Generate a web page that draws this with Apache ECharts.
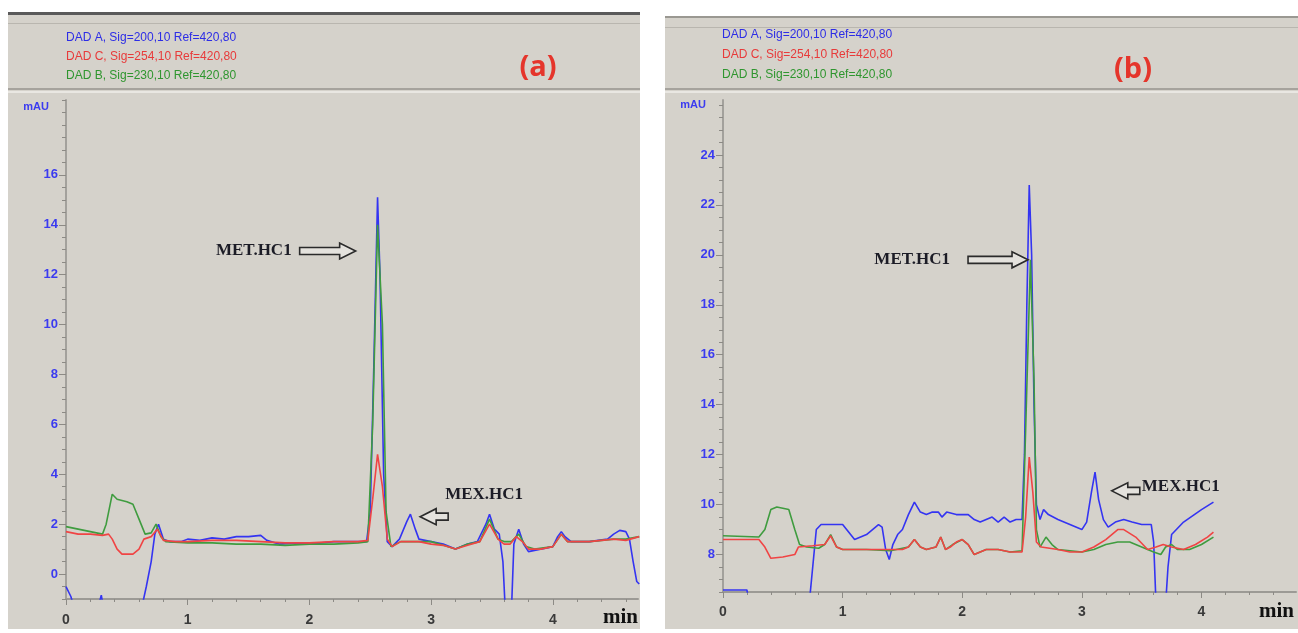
<!DOCTYPE html>
<html>
<head>
<meta charset="utf-8">
<script src="https://cdn.jsdelivr.net/npm/echarts@6.0.0/dist/echarts.min.js"></script>
<style>
html, body { margin: 0; padding: 0; background: #fff; }
#main { width: 1298px; height: 633px; }
</style>
</head>
<body>
<div id="main"></div>
<script>
// legend labels
const sigNames = ['DAD A, Sig=200,10 Ref=420,80', 'DAD C, Sig=254,10 Ref=420,80', 'DAD B, Sig=230,10 Ref=420,80']
const sigColors = ['#3434f2', '#f04444', '#3f9c3f']
const labelColors = ['#2d2de6', '#e83a3a', '#2f962f']

// axis ticks
const aXTicks = [0, 1, 2, 3, 4]
const aYTicks = [0, 2, 4, 6, 8, 10, 12, 14, 16]
const bXTicks = [0, 1, 2, 3, 4]
const bYTicks = [8, 10, 12, 14, 16, 18, 20, 22, 24]

// (a) traces [min, mAU]
const aBlue = [[0, -0.5], [0.04, -0.9], [0.07, -1.4], [0.26, -1.4], [0.29, -0.85], [0.31, -1.4], [0.62, -1.4], [0.66, -0.5], [0.7, 0.5], [0.73, 1.6], [0.76, 2.0], [0.8, 1.4], [0.85, 1.3], [0.95, 1.3], [1.0, 1.4], [1.1, 1.35], [1.2, 1.45], [1.3, 1.4], [1.4, 1.5], [1.5, 1.5], [1.6, 1.55], [1.65, 1.35], [1.75, 1.2], [1.9, 1.25], [2.0, 1.2], [2.1, 1.25], [2.2, 1.3], [2.3, 1.3], [2.4, 1.3], [2.47, 1.3], [2.5, 2.5], [2.53, 8.5], [2.56, 15.1], [2.58, 12], [2.61, 4], [2.64, 1.3], [2.68, 1.1], [2.74, 1.4], [2.8, 2.1], [2.83, 2.4], [2.87, 1.8], [2.9, 1.4], [3.0, 1.3], [3.1, 1.2], [3.2, 1.0], [3.3, 1.2], [3.38, 1.3], [3.45, 2.0], [3.48, 2.4], [3.52, 1.8], [3.56, 1.6], [3.59, 0.5], [3.61, -1.5], [3.66, -1.5], [3.68, 1.2], [3.72, 1.8], [3.76, 1.2], [3.8, 0.9], [3.9, 1.0], [4.0, 1.1], [4.04, 1.5], [4.07, 1.7], [4.1, 1.5], [4.15, 1.3], [4.3, 1.3], [4.45, 1.4], [4.5, 1.6], [4.55, 1.75], [4.6, 1.7], [4.63, 1.4], [4.66, 0.5], [4.69, -0.3], [4.71, -0.4]]
const aRed = [[0, 1.7], [0.05, 1.65], [0.1, 1.6], [0.2, 1.6], [0.3, 1.55], [0.35, 1.6], [0.38, 1.4], [0.42, 1.0], [0.46, 0.8], [0.55, 0.8], [0.6, 1.0], [0.64, 1.4], [0.7, 1.5], [0.75, 1.8], [0.8, 1.35], [0.9, 1.3], [1.0, 1.3], [1.2, 1.35], [1.4, 1.35], [1.6, 1.3], [1.8, 1.25], [2.0, 1.25], [2.2, 1.3], [2.4, 1.3], [2.48, 1.35], [2.52, 3.0], [2.56, 4.8], [2.6, 3.5], [2.64, 1.4], [2.68, 1.1], [2.75, 1.3], [2.9, 1.3], [3.0, 1.2], [3.1, 1.15], [3.2, 1.0], [3.3, 1.15], [3.4, 1.3], [3.48, 2.0], [3.55, 1.4], [3.6, 1.2], [3.65, 1.2], [3.7, 1.5], [3.75, 1.3], [3.8, 1.0], [3.9, 1.0], [4.0, 1.1], [4.07, 1.6], [4.12, 1.3], [4.3, 1.3], [4.5, 1.4], [4.6, 1.35], [4.71, 1.5]]
const aGreen = [[0, 1.9], [0.1, 1.8], [0.2, 1.7], [0.3, 1.6], [0.33, 2.0], [0.38, 3.2], [0.42, 3.0], [0.5, 2.9], [0.55, 2.8], [0.6, 2.2], [0.65, 1.6], [0.7, 1.65], [0.74, 2.0], [0.78, 1.5], [0.82, 1.3], [1.0, 1.25], [1.2, 1.25], [1.4, 1.2], [1.6, 1.2], [1.8, 1.15], [2.0, 1.2], [2.2, 1.2], [2.4, 1.25], [2.48, 1.3], [2.52, 6], [2.56, 14], [2.6, 10], [2.63, 2.5], [2.67, 1.1], [2.75, 1.3], [2.9, 1.3], [3.0, 1.3], [3.1, 1.15], [3.2, 1.0], [3.3, 1.2], [3.4, 1.3], [3.48, 2.2], [3.55, 1.4], [3.6, 1.3], [3.66, 1.3], [3.72, 1.6], [3.78, 1.1], [3.85, 1.0], [4.0, 1.1], [4.07, 1.6], [4.12, 1.3], [4.3, 1.3], [4.5, 1.4], [4.6, 1.4], [4.71, 1.5]]

// (b) traces [min, mAU]
const bBlue = [[0, 6.58], [0.2, 6.58], [0.22, 6.0], [0.72, 6.0], [0.75, 7.5], [0.78, 9.0], [0.82, 9.2], [0.9, 9.2], [1.0, 9.2], [1.05, 8.9], [1.1, 8.6], [1.15, 8.7], [1.2, 8.8], [1.25, 9.0], [1.3, 9.2], [1.33, 9.1], [1.36, 8.2], [1.39, 7.8], [1.42, 8.4], [1.46, 8.8], [1.5, 9.0], [1.55, 9.6], [1.6, 10.1], [1.65, 9.7], [1.7, 9.6], [1.75, 9.7], [1.8, 9.7], [1.83, 9.5], [1.87, 9.7], [1.95, 9.6], [2.05, 9.6], [2.1, 9.4], [2.15, 9.3], [2.2, 9.4], [2.25, 9.5], [2.3, 9.3], [2.35, 9.5], [2.4, 9.3], [2.45, 9.4], [2.5, 9.4], [2.52, 12], [2.54, 18], [2.56, 22.8], [2.58, 20], [2.6, 14], [2.62, 10], [2.65, 9.4], [2.68, 9.8], [2.72, 9.6], [2.8, 9.4], [2.9, 9.2], [3.0, 9.0], [3.04, 9.3], [3.08, 10.5], [3.11, 11.3], [3.14, 10.2], [3.18, 9.4], [3.22, 9.1], [3.28, 9.3], [3.35, 9.4], [3.42, 9.3], [3.5, 9.2], [3.58, 9.2], [3.6, 8.5], [3.62, 6.0], [3.7, 6.0], [3.72, 7.5], [3.75, 8.8], [3.85, 9.3], [4.0, 9.8], [4.1, 10.1]]
const bRed = [[0, 8.6], [0.3, 8.6], [0.35, 8.3], [0.4, 7.85], [0.5, 7.9], [0.6, 8.0], [0.63, 8.3], [0.75, 8.35], [0.85, 8.4], [0.9, 8.75], [0.95, 8.3], [1.0, 8.2], [1.2, 8.2], [1.4, 8.2], [1.5, 8.2], [1.55, 8.3], [1.6, 8.6], [1.65, 8.3], [1.7, 8.2], [1.78, 8.3], [1.82, 8.7], [1.86, 8.2], [1.9, 8.3], [1.95, 8.5], [2.0, 8.6], [2.05, 8.4], [2.1, 8.0], [2.2, 8.2], [2.3, 8.2], [2.4, 8.1], [2.5, 8.1], [2.53, 9.5], [2.56, 11.9], [2.59, 10.5], [2.62, 8.5], [2.66, 8.3], [2.8, 8.2], [2.9, 8.1], [3.0, 8.1], [3.1, 8.3], [3.2, 8.6], [3.3, 9.0], [3.35, 9.0], [3.45, 8.7], [3.55, 8.2], [3.62, 8.3], [3.68, 8.4], [3.75, 8.3], [3.85, 8.2], [3.95, 8.4], [4.05, 8.7], [4.1, 8.9]]
const bGreen = [[0, 8.75], [0.3, 8.7], [0.35, 9.0], [0.4, 9.8], [0.45, 9.9], [0.55, 9.8], [0.6, 9.0], [0.64, 8.4], [0.7, 8.3], [0.8, 8.25], [0.85, 8.4], [0.9, 8.8], [0.95, 8.3], [1.0, 8.2], [1.2, 8.2], [1.4, 8.15], [1.55, 8.3], [1.6, 8.6], [1.65, 8.3], [1.7, 8.2], [1.78, 8.3], [1.82, 8.7], [1.86, 8.2], [1.92, 8.4], [2.0, 8.6], [2.05, 8.4], [2.1, 8.0], [2.2, 8.2], [2.3, 8.2], [2.4, 8.1], [2.5, 8.15], [2.53, 13], [2.57, 19.8], [2.6, 15], [2.62, 9], [2.65, 8.3], [2.7, 8.7], [2.75, 8.4], [2.8, 8.2], [3.0, 8.1], [3.1, 8.2], [3.2, 8.4], [3.3, 8.5], [3.4, 8.5], [3.5, 8.3], [3.6, 8.1], [3.66, 8.0], [3.7, 8.3], [3.75, 8.4], [3.8, 8.2], [3.9, 8.2], [4.0, 8.4], [4.1, 8.7]]

const myChart = echarts.init(document.getElementById('main'), null, { renderer: 'canvas' })

function steps(from, to, step) {
  let out = []
  for (let v = from; v <= to + 1e-9; v += step) out.push(Math.round(v * 100) / 100)
  return out
}

function xAxes(gridIndex, max, ticks, margin) {
  return [
    {
      type: 'value', gridIndex: gridIndex, min: 0, max: max, position: 'bottom',
      axisLine: { show: true, onZero: false, lineStyle: { color: '#9c9a95', width: 2 } },
      axisTick: { show: true, customValues: ticks, length: 6, lineStyle: { color: '#8c8a85' } },
      axisLabel: { customValues: ticks, color: '#3a3a3a', fontSize: 14, fontWeight: 'bold', fontFamily: 'Liberation Sans', margin: margin },
      splitLine: { show: false }
    },
    {
      type: 'value', gridIndex: gridIndex, min: 0, max: max, position: 'bottom',
      axisLine: { show: false, onZero: false },
      axisTick: { show: true, customValues: steps(0, max, 0.2), length: 3, lineStyle: { color: '#8c8a85' } },
      axisLabel: { show: false },
      splitLine: { show: false }
    }
  ]
}

function yAxes(gridIndex, min, max, ticks) {
  return [
    {
      type: 'value', gridIndex: gridIndex, min: min, max: max, position: 'left',
      axisLine: { show: true, onZero: false, lineStyle: { color: '#a3a19c', width: 2 } },
      axisTick: { show: true, customValues: ticks, length: 7, lineStyle: { color: '#8c8a85' } },
      axisLabel: { customValues: ticks, color: '#3b3bf0', fontSize: 13, fontWeight: 'bold', fontFamily: 'Liberation Sans', margin: 8 },
      splitLine: { show: false }
    },
    {
      type: 'value', gridIndex: gridIndex, min: min, max: max, position: 'left',
      axisLine: { show: false, onZero: false },
      axisTick: { show: true, customValues: steps(Math.ceil(min * 2) / 2, max, 0.5), length: 4, lineStyle: { color: '#8c8a85' } },
      axisLabel: { show: false },
      splitLine: { show: false }
    }
  ]
}

function trace(name, data, color, xi, yi) {
  return {
    name: name, type: 'line', data: data, xAxisIndex: xi, yAxisIndex: yi,
    showSymbol: false, clip: true, silent: true,
    lineStyle: { color: color, width: 1.6 }, itemStyle: { color: color }
  }
}

let option = {
  animation: false,
  backgroundColor: '#ffffff',
  grid: [
    { left: 66, right: 660, top: 100, bottom: 34, outerBoundsMode: 'none' },
    { left: 723, right: 2, top: 100, bottom: 41, outerBoundsMode: 'none' }
  ],
  xAxis: [...xAxes(0, 4.7, aXTicks, 14), ...xAxes(1, 4.79, bXTicks, 13)],
  yAxis: [...yAxes(0, -1, 19, aYTicks), ...yAxes(1, 6.5, 26.2, bYTicks)],
  series: [
    trace(sigNames[0], aBlue, sigColors[0], 0, 0),
    trace(sigNames[2], aGreen, sigColors[2], 0, 0),
    trace(sigNames[1], aRed, sigColors[1], 0, 0),
    trace(sigNames[0], bBlue, sigColors[0], 2, 2),
    trace(sigNames[2], bGreen, sigColors[2], 2, 2),
    trace(sigNames[1], bRed, sigColors[1], 2, 2)
  ]
}
myChart.setOption(option)

// frame of each panel
function panel(x, y, w, h, topColor, topH) {
  return [
    { type: 'rect', z: -10, shape: { x: x, y: y, width: w, height: h }, style: { fill: '#d5d2cb' } },
    { type: 'rect', z: -9, shape: { x: x, y: y, width: w, height: topH }, style: { fill: topColor } },
    { type: 'rect', z: -9, shape: { x: x, y: y + 11, width: w, height: 1 }, style: { fill: '#b9b6af' } },
    { type: 'rect', z: -9, shape: { x: x, y: 88, width: w, height: 2 }, style: { fill: '#a6a39d' } },
    { type: 'rect', z: -9, shape: { x: x, y: 91, width: w, height: 2 }, style: { fill: '#e9e7e2' } }
  ]
}

function legendTexts(x, y0, gap) {
  return sigNames.map((n, i) => ({
    type: 'text', z: 10, x: x, y: y0 + i * gap,
    style: { text: n, fill: labelColors[i], font: '12px "Liberation Sans"', verticalAlign: 'middle' }
  }))
}

function label(text, x, y, font, color, align) {
  return { type: 'text', z: 10, x: x, y: y, style: { text: text, fill: color, font: font, align: align || 'left', verticalAlign: 'middle' } }
}

// outlined block arrow, tip at (tx, ty), dir 1 = right, -1 = left
function arrow(tx, ty, len, dir) {
  const head = 16
  const pts = [[0, -3.5], [len - head, -3.5], [len - head, -8], [len, 0], [len - head, 8], [len - head, 3.5], [0, 3.5]]
  return {
    type: 'polygon', z: 10,
    shape: { points: pts.map(p => [tx - dir * (len - p[0]), ty + p[1]]) },
    style: { fill: '#e4e2dd', stroke: '#2a2a2a', lineWidth: 1.6 }
  }
}

const annFont = 'bold 17px "Liberation Serif"'
const annColor = '#1c1c26'
const aMet = myChart.convertToPixel({ xAxisIndex: 0, yAxisIndex: 0 }, [2.38, 12.95])
const aMex = myChart.convertToPixel({ xAxisIndex: 0, yAxisIndex: 0 }, [2.91, 2.3])
const bMet = myChart.convertToPixel({ xAxisIndex: 2, yAxisIndex: 2 }, [2.55, 19.8])
const bMex = myChart.convertToPixel({ xAxisIndex: 2, yAxisIndex: 2 }, [3.25, 10.55])

myChart.setOption({
  graphic: [
    ...panel(8, 12, 632, 617, '#5a5a5a', 3),
    ...panel(665, 16, 633, 613, '#9a9892', 2),
    ...legendTexts(66, 38, 19),
    ...legendTexts(722, 35, 20),
    label('(a)', 538, 68, 'bold 29px "Open Sans"', '#e5352b', 'center'),
    label('(b)', 1133, 70, 'bold 29px "Open Sans"', '#e5352b', 'center'),
    label('mAU', 49, 107, 'bold 11px "Liberation Sans"', '#3b3bf0', 'right'),
    label('mAU', 706, 105, 'bold 11px "Liberation Sans"', '#3b3bf0', 'right'),
    label('min', 638, 618, 'bold 21px "Liberation Serif"', '#111', 'right'),
    label('min', 1294, 612, 'bold 21px "Liberation Serif"', '#111', 'right'),
    arrow(aMet[0], aMet[1], 56, 1),
    label('MET.HC1', aMet[0] - 64, aMet[1], annFont, annColor, 'right'),
    arrow(aMex[0], aMex[1], 28, -1),
    label('MEX.HC1', aMex[0] + 25, aMex[1] - 22, annFont, annColor, 'left'),
    arrow(bMet[0], bMet[1], 60, 1),
    label('MET.HC1', bMet[0] - 78, bMet[1], annFont, annColor, 'right'),
    arrow(bMex[0], bMex[1], 28, -1),
    label('MEX.HC1', bMex[0] + 30, bMex[1] - 4, annFont, annColor, 'left')
  ]
})
</script>
</body>
</html>
